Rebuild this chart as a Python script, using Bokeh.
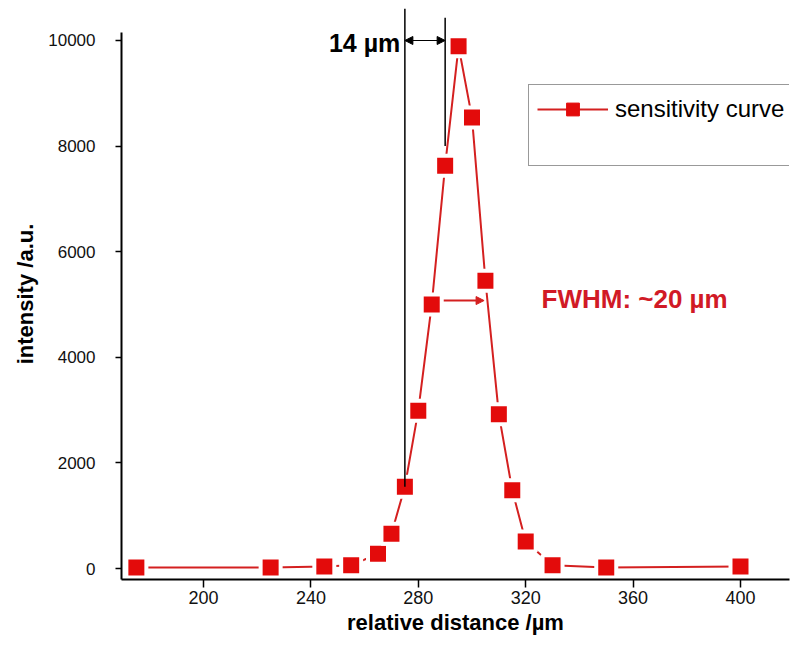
from bokeh.plotting import figure
from bokeh.models import (Range1d, FixedTicker, Arrow, NormalHead, Label, Legend,
                          LegendItem)
from bokeh.embed import file_html
from bokeh.resources import INLINE

# ---- data ----
distance = [175, 225, 245, 255, 265, 270, 275, 280, 285, 290, 295, 300, 305,
            310, 315, 320, 330, 350, 400]
intensity = [20, 20, 40, 60, 280, 660, 1550, 2990, 5000, 7630, 9890, 8540,
             5450, 2920, 1480, 510, 60, 20, 40]

x_ticks = [200, 240, 280, 320, 360, 400]
y_ticks = [0, 2000, 4000, 6000, 8000, 10000]

guide_x = [275, 290]
guide_y_low = [1550, 8000]
guide_y_high = [10606, 10430]

sep_x = [275, 290]
sep_y = 10000
fwhm_x = [285, 304.5]
fwhm_y = 5075

RED_FILL = "#e30b0b"
RED_LINE = "#d42020"
RED_TEXT = "#d11a26"
FONT = "Liberation Sans"

p = figure(width=796, height=638, output_backend="svg", toolbar_location=None,
           title=None,
           x_range=Range1d(169.46, 418.25), y_range=Range1d(-208, 10606),
           min_border_left=121, min_border_right=7, min_border_top=8,
           min_border_bottom=59)
p.outline_line_color = None
p.xgrid.visible = False
p.ygrid.visible = False

# axes
for ax in (p.xaxis[0], p.yaxis[0]):
    ax.axis_line_width = 2
    ax.axis_line_color = "black"
    ax.major_tick_line_width = 1.5
    ax.major_tick_line_color = "black"
    ax.minor_tick_line_color = None
    ax.major_tick_in = 0
    ax.major_label_text_font = FONT
    ax.major_label_text_color = "#111111"
    ax.axis_label_text_font = FONT
    ax.axis_label_text_font_style = "bold"
    ax.axis_label_text_font_size = "22px"
    ax.axis_label_text_color = "black"

p.xaxis.ticker = FixedTicker(ticks=x_ticks)
p.yaxis.ticker = FixedTicker(ticks=y_ticks)
p.xaxis.axis_label = "relative distance /µm"
p.yaxis.axis_label = "intensity /a.u."
p.xaxis.major_tick_out = 8
p.yaxis.major_tick_out = 6
p.xaxis.major_label_text_font_size = "18px"
p.yaxis.major_label_text_font_size = "17px"
p.xaxis.major_label_standoff = 3
p.yaxis.major_label_standoff = 20
p.xaxis.axis_label_standoff = 3
p.yaxis.axis_label_standoff = 7
p.yaxis.bounds = (-208, 10150)

# FWHM arrow beneath markers
fwhm_arrow = Arrow(start=NormalHead(size=8, fill_color=RED_LINE, line_color=RED_LINE),
                   end=NormalHead(size=8, fill_color=RED_LINE, line_color=RED_LINE),
                   x_start=fwhm_x[0], y_start=fwhm_y, x_end=fwhm_x[1], y_end=fwhm_y,
                   line_color=RED_LINE, line_width=2, level="underlay")
p.add_layout(fwhm_arrow)

curve = p.line(distance, intensity, line_color=RED_LINE, line_width=2)
p.scatter(distance, intensity, marker="square", size=20, fill_color=RED_FILL,
          line_color="white", line_width=4)

# guide lines (14 um separation)
p.segment(x0=guide_x, y0=guide_y_low, x1=guide_x, y1=guide_y_high,
          line_color="black", line_width=1.5)

sep_arrow = Arrow(start=NormalHead(size=8, fill_color="black", line_color="black"),
                  end=NormalHead(size=8, fill_color="black", line_color="black"),
                  x_start=sep_x[0], y_start=sep_y, x_end=sep_x[1], y_end=sep_y,
                  line_color="black", line_width=1.2)
p.add_layout(sep_arrow)

p.add_layout(Label(x=273.3, y=9950, text="14 µm", text_align="right",
                   text_baseline="middle", text_font=FONT, text_font_size="25px",
                   text_font_style="bold", text_color="black"))
p.add_layout(Label(x=325.9, y=5095, text="FWHM: ~20 µm", text_align="left",
                   text_baseline="middle", text_font=FONT, text_font_size="26px",
                   text_font_style="bold", text_color=RED_TEXT))

# legend
nan = float("nan")
leg_marker = p.scatter([nan], [nan], marker="square", fill_color=RED_FILL,
                       line_color=RED_FILL)
blank = p.line([nan], [nan], line_alpha=0)
legend = Legend(items=[LegendItem(label="sensitivity curve", renderers=[curve, leg_marker]),
                       LegendItem(label=" ", renderers=[blank])],
                location=(407, 413), glyph_width=71, glyph_height=32,
                label_height=32, padding=8, spacing=0, label_standoff=7,
                label_text_font=FONT, label_text_font_size="24px",
                label_text_color="black", border_line_color="#333333",
                border_line_width=1.5, background_fill_color="white",
                background_fill_alpha=1, margin=0)
p.add_layout(legend)

open("out.html", "w").write(file_html(p, INLINE))
